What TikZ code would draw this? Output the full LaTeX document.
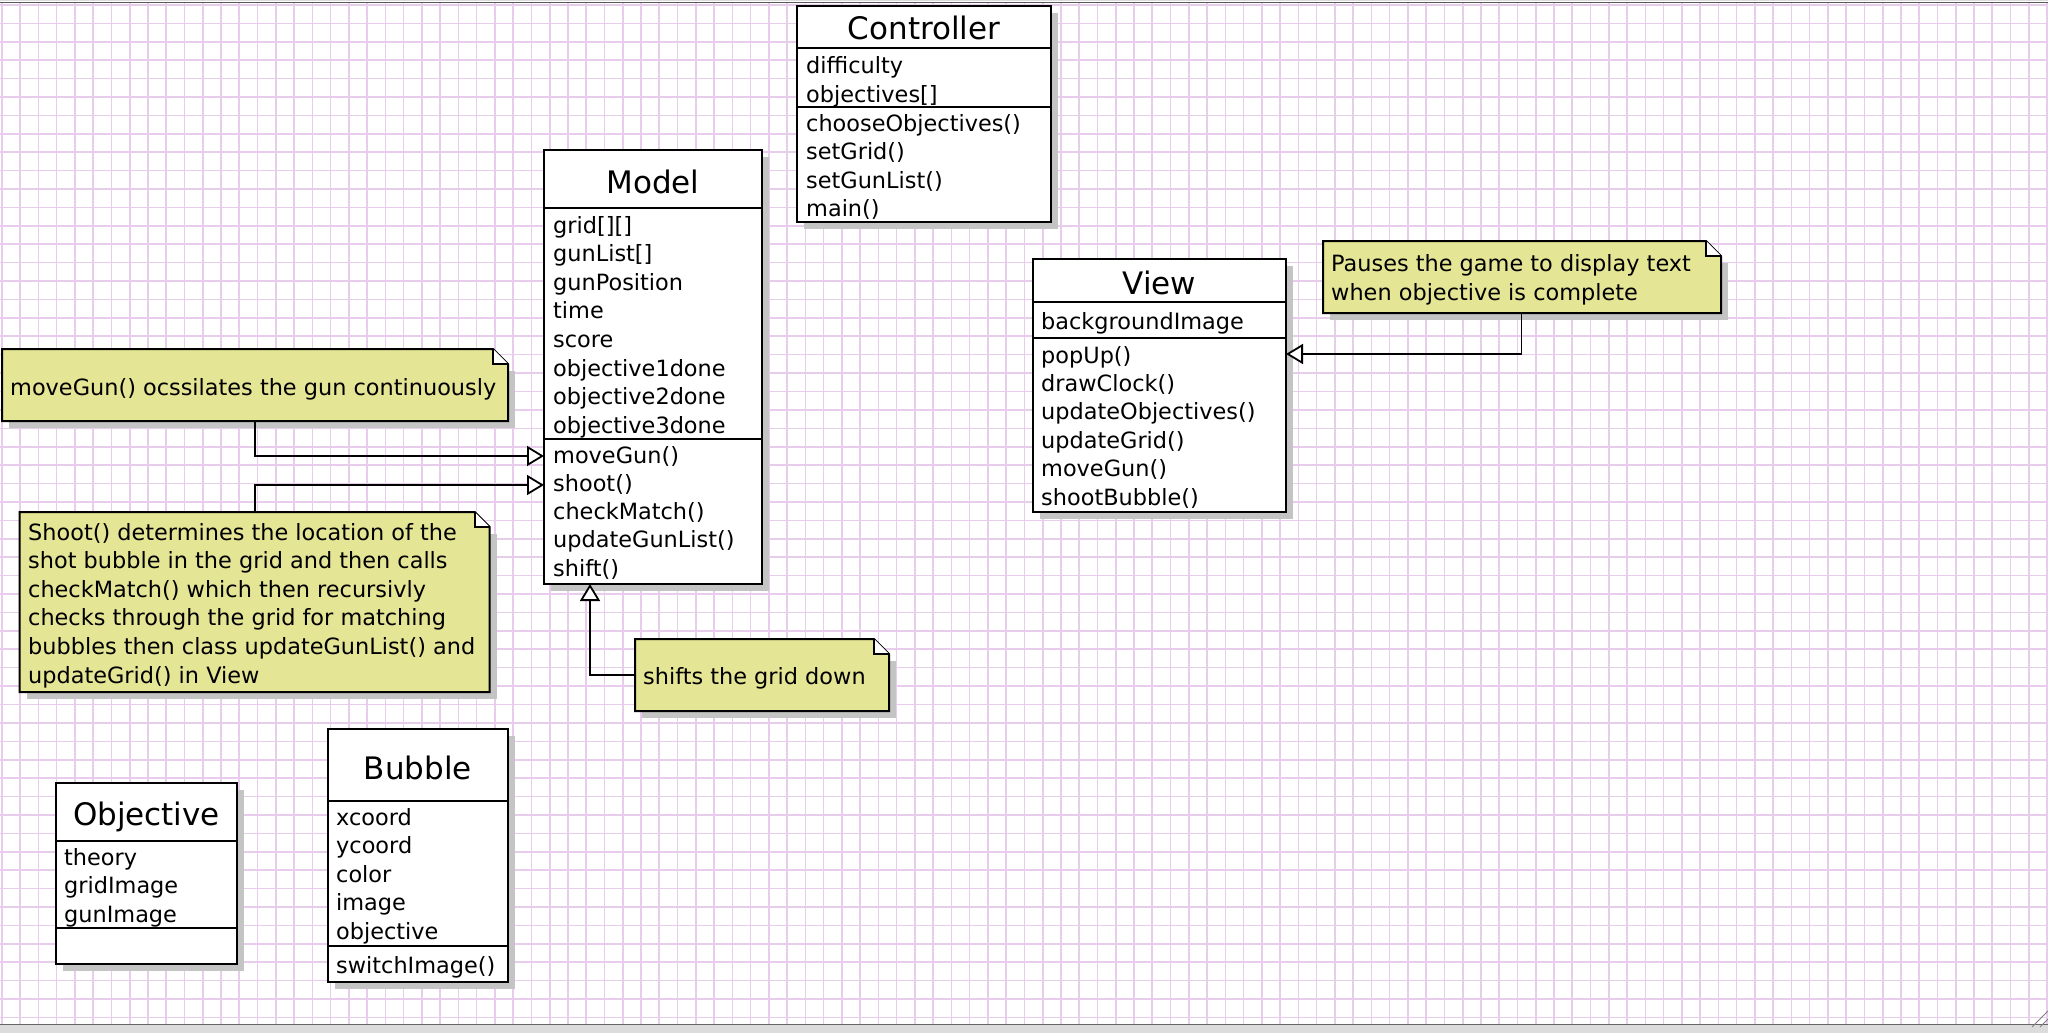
\documentclass[tikz,border=0pt]{standalone}
\usepackage{fontspec}
\setmainfont{DejaVu Sans}
\usetikzlibrary{arrows.meta,calc,shadows}

\definecolor{gridc}{RGB}{232,204,236}
\definecolor{notec}{RGB}{229,229,150}
\definecolor{shadowc}{RGB}{196,196,196}
\definecolor{barc}{RGB}{220,220,220}

\tikzset{
  gridline/.style={draw=gridc, line width=1.6pt},
  classbox/.style={draw=black, line width=2pt, fill=white, anchor=north west,
    inner sep=0pt, outer sep=0pt,
    drop shadow={shadow xshift=7pt, shadow yshift=-7pt, fill=shadowc, opacity=1}},
  compsep/.style={draw=black, line width=2pt},
  notebox/.style={anchor=north west, inner sep=0pt, outer sep=0pt},
  notedraw/.style={draw=black, line width=2pt, line join=miter},
  clstitle/.style={anchor=base, inner sep=0pt, font=\fontsize{31}{36}\selectfont},
  row/.style={anchor=base west, inner sep=0pt, yshift=-1.5pt,
    font=\fontsize{22.4}{26}\selectfont},
  realize/.style={draw=black, line width=1.8pt,
    -{Triangle[length=17pt, width=20pt, fill=white]}},
}

% yellow note with a folded corner, drawn around an (invisible) named node
\newcommand\dognote[1]{%
  \fill[shadowc] ($(#1.north west)+(7,22)$) rectangle ($(#1.south east)+(7,7)$);
  \draw[notedraw, fill=notec] (#1.north west) -- ($(#1.north east)+(-15,0)$)
    -- ($(#1.north east)+(0,15)$) -- (#1.south east) -- (#1.south west) -- cycle;
  \draw[notedraw, fill=white] ($(#1.north east)+(-15,0)$)
    -- ($(#1.north east)+(-15,15)$) -- ($(#1.north east)+(0,15)$);
}

\begin{document}
\begin{tikzpicture}[x=1pt, y=-1pt]
\useasboundingbox (0,0) rectangle (2048,1033);
\fill[white] (0,0) rectangle (2048,1033);

% canvas grid
\foreach \i in {0,...,112}
  \draw[gridline] ({1.9+18.26*\i},3) -- ({1.9+18.26*\i},1024);
\foreach \j in {0,...,55}
  \draw[gridline] (0,{4.9+18.41*\j}) -- (2048,{4.9+18.41*\j});

% window edges
\fill[barc] (0,0) rectangle (2048,1.5);
\draw[gray!70!black, line width=1.2pt] (0,2.2) -- (2048,2.2);
\fill[barc] (0,1025) rectangle (2048,1033);
\draw[gray!80!black, line width=1.2pt] (0,1024.5) -- (2048,1024.5);
\draw[gray, line width=1pt] (2032,1027) -- (2048,1011);
\draw[gray, line width=1pt] (2040,1027) -- (2048,1019);

% ---------- Controller ----------
\node[classbox, minimum width=254pt, minimum height=216pt] (controller) at (797,6) {};
\draw[compsep] ($(controller.north west)+(0,42)$) -- ($(controller.north east)+(0,42)$);
\draw[compsep] ($(controller.north west)+(0,101)$) -- ($(controller.north east)+(0,101)$);
\node[clstitle] (controller-t) at ($(controller.north)+(0,34)$) {Controller};
\node[row] (controller-a1) at (806,72) {difficulty};
\node[row] (controller-a2) at (806,100.5) {objectives[]};
\node[row] (controller-m1) at (806,129.5) {chooseObjectives()};
\node[row] (controller-m2) at (806,158) {setGrid()};
\node[row] (controller-m3) at (806,186.5) {setGunList()};
\node[row] (controller-m4) at (806,215) {main()};

% ---------- Model ----------
\node[classbox, minimum width=218pt, minimum height=434pt] (model) at (544,150) {};
\draw[compsep] ($(model.north west)+(0,58)$) -- ($(model.north east)+(0,58)$);
\draw[compsep] ($(model.north west)+(0,289)$) -- ($(model.north east)+(0,289)$);
\node[clstitle] (model-t) at ($(model.north)+(0,43)$) {Model};
\foreach \t [count=\k from 0] in {{grid[][]},{gunList[]},gunPosition,time,score,
    objective1done,objective2done,objective3done}
  \node[row] (model-a\k) at (553,{231.5+28.6*\k}) {\t};
\foreach \t [count=\k from 0] in {moveGun(),shoot(),checkMatch(),updateGunList(),shift()}
  \node[row] (model-m\k) at (553,{461.5+28.3*\k}) {\t};

% ---------- View ----------
\node[classbox, minimum width=253pt, minimum height=253pt] (view) at (1033,259) {};
\draw[compsep] ($(view.north west)+(0,43)$) -- ($(view.north east)+(0,43)$);
\draw[compsep] ($(view.north west)+(0,79)$) -- ($(view.north east)+(0,79)$);
\node[clstitle] (view-t) at ($(view.north)+(0,35)$) {View};
\node[row] (view-a0) at (1041,327.5) {backgroundImage};
\foreach \t [count=\k from 0] in {popUp(),drawClock(),updateObjectives(),updateGrid(),
    moveGun(),shootBubble()}
  \node[row] (view-m\k) at (1041,{361.5+28.4*\k}) {\t};

% ---------- Objective ----------
\node[classbox, minimum width=181pt, minimum height=181pt] (objective) at (56,783) {};
\draw[compsep] ($(objective.north west)+(0,58)$) -- ($(objective.north east)+(0,58)$);
\draw[compsep] ($(objective.north west)+(0,145)$) -- ($(objective.north east)+(0,145)$);
\node[clstitle] (objective-t) at ($(objective.north)+(0,42)$) {Objective};
\foreach \t [count=\k from 0] in {theory,gridImage,gunImage}
  \node[row] (objective-a\k) at (64,{863.5+28.6*\k}) {\t};

% ---------- Bubble ----------
\node[classbox, minimum width=180.5pt, minimum height=253pt] (bubble) at (327.5,729) {};
\draw[compsep] ($(bubble.north west)+(0,72)$) -- ($(bubble.north east)+(0,72)$);
\draw[compsep] ($(bubble.north west)+(0,217)$) -- ($(bubble.north east)+(0,217)$);
\node[clstitle] (bubble-t) at ($(bubble.north)+(0,50)$) {Bubble};
\foreach \t [count=\k from 0] in {xcoord,ycoord,color,image,objective}
  \node[row] (bubble-a\k) at (336,{823.5+28.6*\k}) {\t};
\node[row] (bubble-m0) at (336,971.5) {switchImage()};

% ---------- notes ----------
\node[notebox, minimum width=506pt, minimum height=72pt] (notemove) at (2,349) {};
\dognote{notemove}
\node[row] (notemove-l1) at (10,393.5) {moveGun() ocssilates the gun continuously};

\node[notebox, minimum width=470pt, minimum height=180pt] (noteshoot) at (19.6,512) {};
\dognote{noteshoot}
\foreach \t [count=\k from 0] in {Shoot() determines the location of the,
    shot bubble in the grid and then calls,
    checkMatch() which then recursivly,
    checks through the grid for matching,
    bubbles then class updateGunList() and,
    updateGrid() in View}
  \node[row] (noteshoot-l\k) at (28,{538.5+28.6*\k}) {\t};

\node[notebox, minimum width=254pt, minimum height=72pt] (noteshift) at (635,639) {};
\dognote{noteshift}
\node[row] (noteshift-l1) at (643,682.5) {shifts the grid down};

\node[notebox, minimum width=398pt, minimum height=72pt] (notepause) at (1323,241) {};
\dognote{notepause}
\node[row] (notepause-l1) at (1331,269.5) {Pauses the game to display text};
\node[row] (notepause-l2) at (1331,298.5) {when objective is complete};

% ---------- connectors ----------
\draw[realize] ($(notemove.south west)+(252.6,0)$) |- ($(model.north west)+(0,306)$);
\draw[realize] ($(noteshoot.north west)+(235,0)$) |- ($(model.north west)+(0,335)$);
\draw[realize] ($(noteshift.north west)+(0,36)$) -| ($(model.south west)+(46,0)$);
\draw[realize] ($(notepause.south west)+(198.5,0)$) |- ($(view.north east)+(0,95)$);
\end{tikzpicture}
\end{document}
